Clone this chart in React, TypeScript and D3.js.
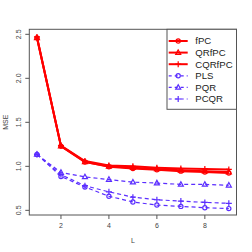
import React from 'react';
import * as d3 from 'd3';

const L = [1, 2, 3, 4, 5, 6, 7, 8, 9];
const fPC = [2.46, 1.23, 1.05, 0.995, 0.975, 0.96, 0.945, 0.935, 0.925];
const QRfPC = [2.46, 1.23, 1.05, 1.0, 0.985, 0.97, 0.955, 0.945, 0.935];
const CQRfPC = [2.47, 1.235, 1.06, 1.01, 1.0, 0.985, 0.975, 0.97, 0.965];
const PLS = [1.135, 0.885, 0.765, 0.66, 0.595, 0.56, 0.545, 0.53, 0.52];
const PQR = [1.135, 0.93, 0.88, 0.85, 0.82, 0.81, 0.795, 0.795, 0.785];
const PCQR = [1.135, 0.905, 0.78, 0.71, 0.65, 0.62, 0.605, 0.59, 0.58];
const xTicks = [2, 4, 6, 8];
const yTicks = [0.5, 1.0, 1.5, 2.0, 2.5];

const RED = '#ff0000';
const BLUE = '#5a2dff';

const series = [
  {name: 'fPC', values: fPC, color: RED, dash: null, shape: 'circle'},
  {name: 'QRfPC', values: QRfPC, color: RED, dash: null, shape: 'triangle'},
  {name: 'CQRfPC', values: CQRfPC, color: RED, dash: null, shape: 'plus'},
  {name: 'PLS', values: PLS, color: BLUE, dash: '4,3', shape: 'circle'},
  {name: 'PQR', values: PQR, color: BLUE, dash: '4,3', shape: 'triangle'},
  {name: 'PCQR', values: PCQR, color: BLUE, dash: '4,3', shape: 'plus'},
];

const Marker = ({shape, x, y, color}) => {
  if (shape === 'circle') return <circle cx={x} cy={y} r={2.1} fill="none" stroke={color} strokeWidth={1.2} />;
  if (shape === 'triangle') {
    const p = `${x},${y - 2.7} ${x - 2.5},${y + 1.8} ${x + 2.5},${y + 1.8}`;
    return <polygon points={p} fill="none" stroke={color} strokeWidth={1.2} />;
  }
  return <path d={`M${x - 3},${y}H${x + 3}M${x},${y - 3}V${y + 3}`} stroke={color} strokeWidth={1.2} />;
};

export default function App() {
  const left = 29.3, right = 236.5, top = 29.3, bottom = 215;
  const x = d3.scaleLinear().domain([0.68, 9.32]).range([left, right]);
  const y = d3.scaleLinear().domain([0.447, 2.557]).range([bottom, top]);
  const line = d3.line<number>().x((d, i) => x(L[i])).y(d => y(d));
  const font = 'Liberation Sans, Arial, sans-serif';

  return (
    <svg width={252} height={252} style={{position: 'absolute', left: 0, top: 0}} fontFamily={font}>
      <rect width={252} height={252} fill="#fff" />
      {series.map(s => (
        <g key={s.name}>
          <path d={line(s.values) || ''} fill="none" stroke={s.color} strokeWidth={s.dash ? 1.2 : 2}
            strokeDasharray={s.dash || undefined} />
          {s.values.map((v, i) => <Marker key={i} shape={s.shape} x={x(L[i])} y={y(v)} color={s.color} />)}
        </g>
      ))}
      <rect x={left} y={top} width={right - left} height={bottom - top} fill="none" stroke="#555" strokeWidth={1} />
      {xTicks.map(t => (
        <g key={t}>
          <line x1={x(t)} x2={x(t)} y1={bottom} y2={bottom + 4} stroke="#555" />
          <text x={x(t)} y={bottom + 13} fontSize={7} textAnchor="middle" fill="#444">{t}</text>
        </g>
      ))}
      {yTicks.map(t => (
        <g key={t}>
          <line x1={left} x2={left - 4} y1={y(t)} y2={y(t)} stroke="#555" />
          <text transform={`translate(${left - 8},${y(t)}) rotate(-90)`} fontSize={7} textAnchor="middle" fill="#444">
            {d3.format('.1f')(t)}
          </text>
        </g>
      ))}
      <text x={(left + right) / 2} y={243} fontSize={7} textAnchor="middle" fill="#444">L</text>
      <text transform={`translate(8,${(top + bottom) / 2}) rotate(-90)`} fontSize={7} textAnchor="middle" fill="#444">MSE</text>
      <g>
        <rect x={167} y={top} width={right - 167} height={109.3 - top} fill="#fff" stroke="#555" />
        {series.map((s, i) => {
          const ly = 41 + i * 11.6;
          return (
            <g key={s.name}>
              <line x1={168.7} x2={187.7} y1={ly} y2={ly} stroke={s.color} strokeWidth={s.dash ? 1.2 : 2}
                strokeDasharray={s.dash ? '3,3' : undefined} />
              <Marker shape={s.shape} x={178.2} y={ly} color={s.color} />
              <text x={195.3} y={ly + 3.4} fontSize={9.6} fill="#222">{s.name}</text>
            </g>
          );
        })}
      </g>
    </svg>
  );
}
